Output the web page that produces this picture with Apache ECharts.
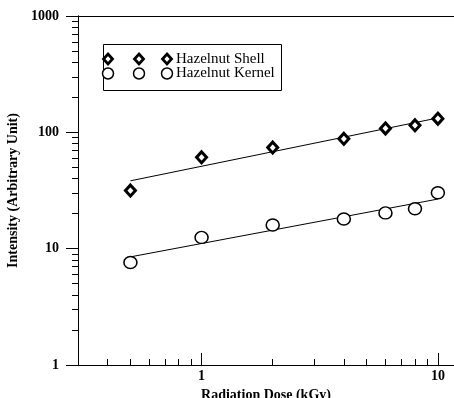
<!DOCTYPE html>
<html>
<head>
<meta charset="utf-8">
<script src="https://cdn.jsdelivr.net/npm/echarts@6/dist/echarts.min.js"></script>
<style>html,body{margin:0;padding:0;background:#fff;}#c{width:454px;height:398px;}</style>
</head>
<body>
<div id="c"></div>
<script>
// Data
const doses = [0.5, 1, 2, 4, 6, 8, 10];
const shell = [31.6, 61, 74, 88, 108, 115, 131];
const kernel = [7.6, 12.5, 16.0, 18.0, 20.3, 22.0, 30.2];
const shellFitX = [0.5, 10];
const shellFitY = [38.3, 133];
const kernelFitX = [0.5, 10];
const kernelFitY = [8.5, 26.7];
const xMajor = [1, 10];
const xMinor = [0.4, 0.5, 0.6, 0.7, 0.8, 0.9, 2, 3, 4, 5, 6, 7, 8, 9];
const yMajor = [1, 10, 100, 1000];
const yMinor = [2, 3, 4, 5, 6, 7, 8, 9, 20, 30, 40, 50, 60, 70, 80, 90, 200, 300, 400, 500, 600, 700, 800, 900];
const legendNames = ['Hazelnut Shell', 'Hazelnut Kernel'];

const FONT = '"Liberation Serif", "Times New Roman", serif';
const pair = (xs, ys) => xs.map((x, i) => [x, ys[i]]);
const plain = v => String(Math.round(v));

const chart = echarts.init(document.getElementById('c'), null, {renderer: 'canvas'});
const axisLineStyle = {color: '#000', width: 1};

chart.setOption({
  animation: false,
  backgroundColor: '#fff',
  grid: {left: 78, right: 0, top: 16, bottom: 33, containLabel: false, outerBoundsMode: 'none'},
  xAxis: [
    {
      type: 'log', min: 0.3, max: 11.7, position: 'bottom',
      axisLine: {show: true, lineStyle: axisLineStyle},
      axisTick: {show: true, inside: true, length: 12, customValues: xMajor, lineStyle: axisLineStyle},
      axisLabel: {show: true, customValues: xMajor, formatter: plain, color: '#000', fontFamily: FONT, fontWeight: 'bold', fontSize: 14, margin: 4},
      splitLine: {show: false}, minorTick: {show: false},
      name: 'Radiation Dose (kGy)', nameLocation: 'middle', nameGap: 19,
      nameTextStyle: {color: '#000', fontFamily: FONT, fontWeight: 'bold', fontSize: 14}
    },
    {
      type: 'log', min: 0.3, max: 11.7, position: 'bottom',
      axisLine: {show: true, lineStyle: axisLineStyle},
      axisTick: {show: true, inside: true, length: 6, customValues: xMinor, lineStyle: axisLineStyle},
      axisLabel: {show: false}, splitLine: {show: false}
    },
    {
      type: 'log', min: 0.3, max: 11.7, position: 'top',
      axisLine: {show: true, lineStyle: axisLineStyle},
      axisTick: {show: false}, axisLabel: {show: false}, splitLine: {show: false}
    }
  ],
  yAxis: [
    {
      type: 'log', min: 1, max: 1000, position: 'left',
      axisLine: {show: true, lineStyle: axisLineStyle},
      axisTick: {show: true, inside: false, length: 12, customValues: yMajor, lineStyle: axisLineStyle},
      axisLabel: {show: true, customValues: yMajor, formatter: plain, color: '#000', fontFamily: FONT, fontWeight: 'bold', fontSize: 14, margin: 19},
      splitLine: {show: false},
      name: 'Intensity (Arbitrary Unit)', nameLocation: 'middle', nameRotate: 90, nameGap: 42,
      nameTextStyle: {color: '#000', fontFamily: FONT, fontWeight: 'bold', fontSize: 14}
    },
    {
      type: 'log', min: 1, max: 1000, position: 'left', offset: 0,
      axisLine: {show: true, lineStyle: axisLineStyle},
      axisTick: {show: true, inside: false, length: 6, customValues: yMinor, lineStyle: axisLineStyle},
      axisLabel: {show: false}, splitLine: {show: false}
    }
  ],
  series: [
    {
      name: 'Hazelnut Shell fit', type: 'line', xAxisIndex: 0, yAxisIndex: 0,
      data: pair(shellFitX, shellFitY), symbol: 'none',
      lineStyle: {color: '#000', width: 1}, z: 2
    },
    {
      name: 'Hazelnut Kernel fit', type: 'line', xAxisIndex: 0, yAxisIndex: 0,
      data: pair(kernelFitX, kernelFitY), symbol: 'none',
      lineStyle: {color: '#000', width: 1}, z: 2
    },
    {
      name: legendNames[0], type: 'scatter', xAxisIndex: 0, yAxisIndex: 0,
      data: pair(doses, shell), symbol: 'diamond', symbolSize: [10, 11],
      itemStyle: {color: '#fff', borderColor: '#000', borderWidth: 3, opacity: 1}, z: 3
    },
    {
      name: legendNames[1], type: 'scatter', xAxisIndex: 0, yAxisIndex: 0,
      data: pair(doses, kernel), symbol: 'circle', symbolSize: [13, 12],
      itemStyle: {color: '#fff', borderColor: '#000', borderWidth: 1.5, opacity: 1}, z: 3
    }
  ],
  graphic: [
    {type: 'rect', shape: {x: 103.5, y: 44.5, width: 178, height: 46}, style: {fill: '#fff', stroke: '#000', lineWidth: 1}, z: 10},
    ...[108, 139, 167].map(cx => ({
      type: 'polygon', shape: {points: [[cx, 54], [cx + 4.5, 59], [cx, 64], [cx - 4.5, 59]]},
      style: {fill: '#fff', stroke: '#000', lineWidth: 2.8}, z: 11
    })),
    ...[108, 139, 167].map(cx => ({
      type: 'circle', shape: {cx: cx, cy: 73.5, r: 5.5},
      style: {fill: '#fff', stroke: '#000', lineWidth: 1.5}, z: 11
    })),
    {type: 'text', x: 176, y: 59, style: {text: legendNames[0], font: '15px ' + FONT, fill: '#000', verticalAlign: 'middle'}, z: 11},
    {type: 'text', x: 176, y: 73.5, style: {text: legendNames[1], font: '15px ' + FONT, fill: '#000', verticalAlign: 'middle'}, z: 11}
  ]
});
</script>
</body>
</html>
